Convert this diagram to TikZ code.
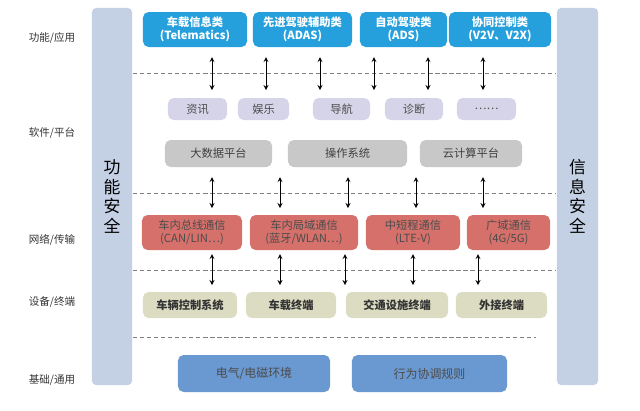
\documentclass[tikz,border=0pt]{standalone}
\usepackage{fontspec}
\setmainfont{Noto Sans CJK SC}
\tikzset{x=0.025cm,y=-0.025cm}
\begin{document}
\begin{tikzpicture}[
  bx/.style={rounded corners=4pt,inner sep=0pt,align=center,font=\fontsize{8}{9}\selectfont},
  top/.style={bx,fill={rgb,255:red,38;green,160;blue,220},text=white,font=\bfseries\fontsize{8}{9}\selectfont},
  sw/.style={bx,fill={rgb,255:red,214;green,212;blue,232},text=black!70},
  pf/.style={bx,fill={rgb,255:red,200;green,200;blue,200},text=black!75},
  nt/.style={bx,fill={rgb,255:red,214;green,112;blue,106},text=black!70},
  dv/.style={bx,fill={rgb,255:red,220;green,220;blue,195},text=black!80,font=\bfseries\fontsize{8}{9}\selectfont},
  bs/.style={bx,fill={rgb,255:red,106;green,152;blue,208},text=black!70,font=\fontsize{8.5}{10}\selectfont},
  side/.style={rounded corners=3pt,fill={rgb,255:red,196;green,208;blue,228},inner sep=0pt},
  lab/.style={font=\fontsize{7.5}{9}\selectfont,text=black!80},
  sepline/.style={densely dashed,gray,line width=0.6pt},
  ar/.style={<->,>=stealth,line width=0.6pt}
]
\useasboundingbox (0,0) rectangle (640,410);
% side bars
\node[side,minimum width=1cm,minimum height=9.425cm] (ls) at (112,196.5) {};
\node[side,minimum width=1.025cm,minimum height=9.425cm] (rs) at (577.5,196.5) {};
\node[font=\fontsize{12}{14}\selectfont,align=center] (lst) at (ls) {功\\能\\安\\全};
\node[font=\fontsize{12}{14}\selectfont,align=center] (rst) at (rs) {信\\息\\安\\全};
% left labels
\node[lab] (l1) at (52,38) {功能/应用};
\node[lab] (l2) at (52,133) {软件/平台};
\node[lab] (l3) at (52,240) {网络/传输};
\node[lab] (l4) at (52,302) {设备/终端};
\node[lab] (l5) at (52,380) {基础/通用};
% dashed lines
\coordinate (d1a) at (133,73); \coordinate (d1b) at (556,73);
\coordinate (d2a) at (133,193); \coordinate (d2b) at (556,193);
\coordinate (d3a) at (133,270); \coordinate (d3b) at (556,270);
\coordinate (d4a) at (133,337); \coordinate (d4b) at (536,337);
\draw[sepline] (d1a)--(d1b); \draw[sepline] (d2a)--(d2b); \draw[sepline] (d3a)--(d3b); \draw[sepline] (d4a)--(d4b);
% top
\node[top,minimum width=2.6cm,minimum height=0.875cm] (t1) at (195,29.5) {车载信息类\\(Telematics)};
\node[top,minimum width=2.475cm,minimum height=0.875cm] (t2) at (302.5,29.5) {先进驾驶辅助类\\(ADAS)};
\node[top,minimum width=2.175cm,minimum height=0.875cm] (t3) at (403.5,29.5) {自动驾驶类\\(ADS)};
\node[top,minimum width=2.55cm,minimum height=0.875cm] (t4) at (500,29.5) {协同控制类\\(V2V、V2X)};
% software
\node[sw,minimum width=1.475cm,minimum height=0.55cm] (s1) at (197.5,109) {资讯};
\node[sw,minimum width=1.275cm,minimum height=0.55cm] (s2) at (263.5,109) {娱乐};
\node[sw,minimum width=1.425cm,minimum height=0.55cm] (s3) at (341.5,109) {导航};
\node[sw,minimum width=1.45cm,minimum height=0.55cm] (s4) at (414,109) {诊断};
\node[sw,minimum width=1.475cm,minimum height=0.55cm] (s5) at (486.5,109) {……};
% platform
\node[pf,minimum width=2.675cm,minimum height=0.675cm] (p1) at (218.5,153.5) {大数据平台};
\node[pf,minimum width=2.975cm,minimum height=0.675cm] (p2) at (347.5,153.5) {操作系统};
\node[pf,minimum width=2.55cm,minimum height=0.675cm] (p3) at (471,153.5) {云计算平台};
% network
\node[nt,minimum width=2.5cm,minimum height=0.875cm] (n1) at (192,232.5) {车内总线通信\\(CAN/LIN…)};
\node[nt,minimum width=2.7cm,minimum height=0.875cm] (n2) at (304,232.5) {车内局域通信\\(蓝牙/WLAN…)};
\node[nt,minimum width=2.35cm,minimum height=0.875cm] (n3) at (413,232.5) {中短程通信\\(LTE-V)};
\node[nt,minimum width=2.075cm,minimum height=0.875cm] (n4) at (508.5,232.5) {广域通信\\(4G/5G)};
% devices
\node[dv,minimum width=2.35cm,minimum height=0.65cm] (v1) at (190,305) {车辆控制系统};
\node[dv,minimum width=2.25cm,minimum height=0.65cm] (v2) at (291,305) {车载终端};
\node[dv,minimum width=2.55cm,minimum height=0.65cm] (v3) at (397,305) {交通设施终端};
\node[dv,minimum width=2.275cm,minimum height=0.65cm] (v4) at (501.5,305) {外接终端};
% base
\node[bs,minimum width=3.8cm,minimum height=0.925cm] (b1) at (254,373.5) {电气/电磁环境};
\node[bs,minimum width=3.875cm,minimum height=0.925cm] (b2) at (429.5,373.5) {行为协调规则};
% arrows
\foreach \x [count=\i] in {212,266,320,374,428,483}{
  \coordinate (ua\i) at (\x,57); \coordinate (ub\i) at (\x,90);
  \draw[ar] (ua\i)--(ub\i);}
\foreach \x [count=\i] in {212,280,348,416,483}{
  \coordinate (ma\i) at (\x,177); \coordinate (mb\i) at (\x,208);
  \draw[ar] (ma\i)--(mb\i);}
\foreach \x [count=\i] in {212,280,345,413,478}{
  \coordinate (la\i) at (\x,254); \coordinate (lb\i) at (\x,285);
  \draw[ar] (la\i)--(lb\i);}
\end{tikzpicture}
\end{document}
